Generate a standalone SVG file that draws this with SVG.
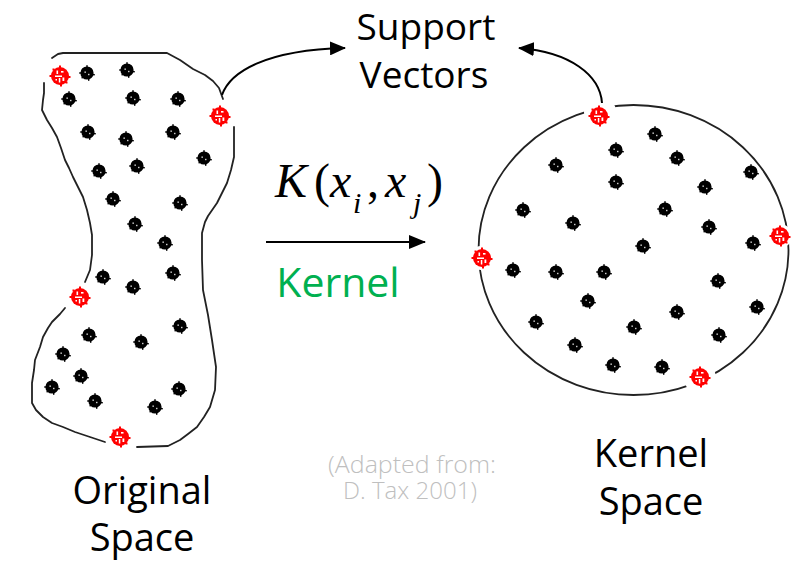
<svg xmlns="http://www.w3.org/2000/svg" xmlns:xlink="http://www.w3.org/1999/xlink" width="797" height="561" viewBox="0 0 797 561">
<style>
.ol{fill:none;stroke:#222;stroke-width:1.8;stroke-linejoin:round;stroke-linecap:round}
.con{fill:none;stroke:#000;stroke-width:2}
.lbl{font-family:"Open Sans","Noto Sans","Liberation Sans",sans-serif;fill:#000;text-anchor:middle}
.math{font-family:"Liberation Serif","Times New Roman",serif;fill:#000}
.note{font-family:"Open Sans","Noto Sans","Liberation Sans",sans-serif;font-weight:300;fill:#bfbfbf;font-size:23px;text-anchor:middle}
</style>
<defs>
<g id="bd">
<circle r="6.6" fill="#000"/>
<rect x="-7.8" y="-0.7" width="2.4" height="1.4" fill="#000"/>
<rect x="5.4" y="1" width="2.4" height="1.4" fill="#000"/>
<rect x="-0.7" y="-7.8" width="1.4" height="2.4" fill="#000"/>
<rect x="1" y="5.4" width="1.4" height="2.4" fill="#000"/>
<rect x="-5.5" y="4" width="1.4" height="1.4" fill="#000"/>
<rect x="-2.5" y="-1.5" width="1.3" height="1.3" fill="#fff"/>
<rect x="1.2" y="0.8" width="1.2" height="1.4" fill="#fff"/>
</g>
<g id="rd">
<circle r="9" fill="#f00"/>
<rect x="-10.5" y="-1" width="2.5" height="2" fill="#f00"/>
<rect x="8" y="0" width="2.5" height="2" fill="#f00"/>
<rect x="-1" y="-10.5" width="2" height="2.5" fill="#f00"/>
<rect x="0" y="8" width="2" height="2.5" fill="#f00"/>
<rect x="-7.5" y="-7.5" width="2" height="2" fill="#f00"/>
<rect x="5.5" y="5.5" width="2" height="2" fill="#f00"/>
<rect x="-3.5" y="-5.5" width="1.6" height="3.5" fill="#fff"/>
<rect x="1" y="-5" width="2.5" height="1.6" fill="#fff"/>
<rect x="-5" y="-0.5" width="7" height="1.5" fill="#fff"/>
<rect x="-1.2" y="2" width="1.5" height="4.5" fill="#fff"/>
<rect x="2.5" y="1.5" width="1.8" height="3.5" fill="#fff"/>
<rect x="-4.5" y="3" width="1.5" height="1.5" fill="#fff"/>
</g>
<marker id="ah" viewBox="0 0 16 14" refX="15" refY="7" markerWidth="16" markerHeight="14" markerUnits="userSpaceOnUse" orient="auto">
<path d="M0,0 L16,7 L0,14 Z" fill="#000"/>
</marker>
<marker id="ah2" viewBox="0 0 17 14" refX="16" refY="7" markerWidth="17" markerHeight="14" markerUnits="userSpaceOnUse" orient="auto">
<path d="M0,0 L17,7 L0,14 Z" fill="#000"/>
</marker>
</defs>
<rect width="797" height="561" fill="#fff"/>

<g id="original-space">
<path class="ol" d="M52,58 L58,54 L63,53 L167,53 L180,60 L193,69 L205,75 L213,81 L219,88 L223,99"/>
<path class="ol" d="M234,127 L234,157 L231,170 L227,183 L217,203 L208,216 L205,222 L202,233 L202,260 L203,290 L208,315 L212,340 L216,367 L215,390 L210,407 L204,417 L197,427 L188,434 L180,440 L168,446 L137,447"/>
<path class="ol" d="M105,442 L90,437 L75,432 L63,427 L52,423 L43,417 L36,410 L32,403 L32,383 L34,370 L35,360 L40,347 L43,337 L48,328 L52,322 L60,314 L65,308"/>
<path class="ol" d="M85,282 L90,270 L92,255 L92,235 L90,223 L87,210 L83,197 L78,187 L73,177 L69,168 L65,160 L61,148 L57,137 L52,128 L47,120 L42,110 L43,100 L44,93 L44,83"/>
<use href="#bd" x="87" y="73"/><use href="#bd" x="127" y="70"/><use href="#bd" x="69" y="99"/>
<use href="#bd" x="133" y="98"/><use href="#bd" x="178" y="99"/><use href="#bd" x="88" y="132"/>
<use href="#bd" x="126" y="139"/><use href="#bd" x="173" y="132"/><use href="#bd" x="204" y="158"/>
<use href="#bd" x="99" y="171"/><use href="#bd" x="137" y="166"/><use href="#bd" x="113" y="199"/>
<use href="#bd" x="180" y="203"/><use href="#bd" x="135" y="224"/><use href="#bd" x="165" y="243"/>
<use href="#bd" x="103" y="277"/><use href="#bd" x="133" y="287"/><use href="#bd" x="173" y="273"/>
<use href="#bd" x="180" y="326"/><use href="#bd" x="89" y="335"/><use href="#bd" x="141" y="342"/>
<use href="#bd" x="63" y="354"/><use href="#bd" x="81" y="376"/><use href="#bd" x="52" y="387"/>
<use href="#bd" x="95" y="401"/><use href="#bd" x="179" y="389"/><use href="#bd" x="155" y="407"/>
<use href="#rd" x="60" y="76"/><use href="#rd" x="220" y="116"/><use href="#rd" x="80" y="297"/><use href="#rd" x="120" y="437"/>
</g>

<g id="kernel-space">
<ellipse class="ol" cx="633.5" cy="250" rx="155" ry="145"/>
<circle cx="600" cy="112" r="16" fill="#fff"/>
<circle cx="481" cy="258" r="12" fill="#fff"/>
<circle cx="780" cy="236" r="12" fill="#fff"/>
<circle cx="700" cy="378" r="16" fill="#fff"/>
<use href="#bd" x="655" y="134"/><use href="#bd" x="616" y="150"/><use href="#bd" x="677" y="158"/>
<use href="#bd" x="556" y="165"/><use href="#bd" x="751" y="172"/><use href="#bd" x="616" y="182"/>
<use href="#bd" x="705" y="187"/><use href="#bd" x="523" y="210"/><use href="#bd" x="665" y="209"/>
<use href="#bd" x="573" y="223"/><use href="#bd" x="709" y="227"/><use href="#bd" x="643" y="246"/>
<use href="#bd" x="753" y="243"/><use href="#bd" x="513" y="270"/><use href="#bd" x="556" y="272"/>
<use href="#bd" x="604" y="272"/><use href="#bd" x="718" y="281"/><use href="#bd" x="588" y="301"/>
<use href="#bd" x="677" y="312"/><use href="#bd" x="757" y="307"/><use href="#bd" x="536" y="322"/>
<use href="#bd" x="634" y="327"/><use href="#bd" x="719" y="335"/><use href="#bd" x="575" y="345"/>
<use href="#bd" x="613" y="365"/><use href="#bd" x="662" y="367"/>
<use href="#rd" x="599" y="116"/><use href="#rd" x="482" y="258"/><use href="#rd" x="780" y="236"/><use href="#rd" x="700" y="377"/>
</g>

<g id="connectors">
<path class="con" d="M222,95 C230,72 265,50 345,48" marker-end="url(#ah)"/>
<path class="con" d="M602,103 C600,75 570,52 519,48" marker-end="url(#ah)"/>
<path class="con" d="M266,242 L425,242" marker-end="url(#ah2)"/>
</g>

<g id="labels">
<text class="lbl" font-size="37" x="426" y="40">Support</text>
<text class="lbl" font-size="37" x="424" y="88">Vectors</text>
<text class="lbl" font-size="38" x="142" y="504">Original</text>
<text class="lbl" font-size="38" x="142" y="551">Space</text>
<text class="lbl" font-size="38" x="651" y="467">Kernel</text>
<text class="lbl" font-size="38" x="651" y="515">Space</text>
<text class="lbl" font-size="41" x="338" y="297" style="fill:#00b050">Kernel</text>
<text class="note" x="412" y="473" textLength="168" lengthAdjust="spacingAndGlyphs">(Adapted from:</text>
<text class="note" x="410" y="499" textLength="134" lengthAdjust="spacingAndGlyphs">D. Tax 2001)</text>
</g>

<g id="formula" class="math">
<text x="275" y="197" font-size="48" font-style="italic">K</text>
<text x="314" y="197" font-size="48">(</text>
<text x="330" y="197" font-size="48" font-style="italic">x</text>
<text x="353" y="213" font-size="30" font-style="italic">i</text>
<text x="367" y="197" font-size="48">,</text>
<text x="385" y="197" font-size="48" font-style="italic">x</text>
<text x="413" y="213" font-size="30" font-style="italic">j</text>
<text x="427" y="197" font-size="48">)</text>
</g>
</svg>
